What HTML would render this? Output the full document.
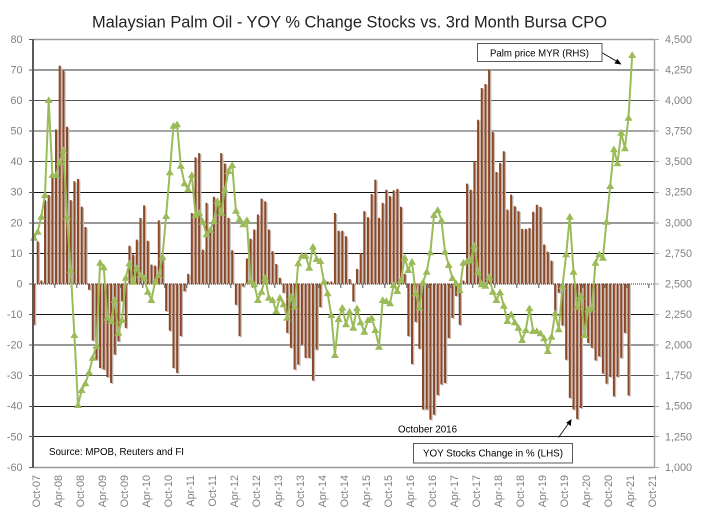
<!DOCTYPE html>
<html>
<head>
<meta charset="utf-8">
<style>
html,body{margin:0;padding:0;background:#fff;}
svg{display:block;}
text{font-family:"Liberation Sans",Arial,sans-serif;}
</style>
</head>
<body>
<svg width="701" height="523" viewBox="0 0 701 523" xmlns="http://www.w3.org/2000/svg">
<defs>
<marker id="tri" markerWidth="10" markerHeight="10" refX="5" refY="5" markerUnits="userSpaceOnUse" viewBox="0 0 10 10">
<path d="M5 1.2 L9 8 L1 8 Z" fill="#9bbb59"/>
</marker>
</defs>
<rect width="701" height="523" fill="#fff"/>

<!-- title -->
<text x="92" y="27.5" font-size="16.5" fill="#222" textLength="515" lengthAdjust="spacingAndGlyphs">Malaysian Palm Oil - YOY % Change Stocks vs. 3rd Month Bursa CPO</text>

<!-- gridlines -->
<g fill="none">
<line x1="33" y1="39.5" x2="654" y2="39.5" stroke="#999" stroke-width="1.5"/>
<line x1="33" y1="70" x2="654" y2="70" stroke="#999" stroke-width="2"/>
<line x1="33" y1="100.5" x2="654" y2="100.5" stroke="#555" stroke-width="1"/>
<line x1="33" y1="131" x2="654" y2="131" stroke="#888" stroke-width="1.6"/>
<line x1="33" y1="161.5" x2="654" y2="161.5" stroke="#444" stroke-width="1"/>
<line x1="33" y1="192.5" x2="654" y2="192.5" stroke="#111" stroke-width="1"/>
<line x1="33" y1="223" x2="654" y2="223" stroke="#999" stroke-width="2"/>
<line x1="33" y1="253.5" x2="654" y2="253.5" stroke="#111" stroke-width="1"/>
<line x1="33" y1="314.5" x2="654" y2="314.5" stroke="#111" stroke-width="1"/>
<line x1="33" y1="345" x2="654" y2="345" stroke="#777" stroke-width="1.6"/>
<line x1="33" y1="375.5" x2="654" y2="375.5" stroke="#555" stroke-width="1"/>
<line x1="33" y1="406.5" x2="654" y2="406.5" stroke="#222" stroke-width="1"/>
<line x1="33" y1="436.5" x2="654" y2="436.5" stroke="#222" stroke-width="1"/>
<line x1="33" y1="467.5" x2="654" y2="467.5" stroke="#999" stroke-width="1.5"/>
</g>

<!-- bar shadows -->
<g transform="translate(35.3,284.6) scale(3.67,-3.057)" fill="#c2bab2">
<path d="M-.27 0v-13.4h.54v13.4zm1 0v13.8h.54v-13.8zm1 0v1h.54v-1zm1 0v27.3h.54v-27.3zm1 0v29h.54v-29zm1 0v35h.54v-35zm1 0v50.4h.54v-50.4zm1 0v71.3h.54v-71.3zm1 0v69.7h.54v-69.7zm1 0v51.3h.54v-51.3zm1 0v27.3h.54v-27.3zm1 0v33.5h.54v-33.5zm1 0v34.2h.54v-34.2zm1 0v25.2h.54v-25.2zm1 0v18.5h.54v-18.5zm1 0v-2h.54v2zm1 0v-18.6h.54v18.6zm1 0v-24.9h.54v24.9zm1 0v-27.6h.54v27.6zm1 0v-28.1h.54v28.1zm1 0v-30.6h.54v30.6zm1 0v-32.5h.54v32.5zm1 0v-23.2h.54v23.2zm1 0v-18.9h.54v18.9zm1 0v-5.8h.54v5.8zm1 0v-14.5h.54v14.5zm1 0v12.4h.54v-12.4zm1 0v9.5h.54v-9.5zm1 0v14.4h.54v-14.4zm1 0v21.5h.54v-21.5zm1 0v25.6h.54v-25.6zm1 0v14h.54v-14zm1 0v6.2h.54v-6.2zm1 0v5.9h.54v-5.9zm1 0v20.7h.54v-20.7zm1 0v9h.54v-9zm1 0v-9h.54v9zm1 0v-15.4h.54v15.4zm1 0v-27.6h.54v27.6zm1 0v-29.2h.54v29.2zm1 0v-17.2h.54v17.2zm1 0v-2.5h.54v2.5zm1 0v3.2h.54v-3.2zm1 0v23.1h.54v-23.1zm1 0v41.3h.54v-41.3zm1 0v42.7h.54v-42.7zm1 0v11.1h.54v-11.1zm1 0v26.4h.54v-26.4zm1 0v18.2h.54v-18.2zm1 0v28.4h.54v-28.4zm1 0v25.8h.54v-25.8zm1 0v42.7h.54v-42.7zm1 0v39.3h.54v-39.3zm1 0v21.5h.54v-21.5zm1 0v10.9h.54v-10.9zm1 0v-6.9h.54v6.9zm1 0v-17.2h.54v17.2zm1 0v-1h.54v1zm1 0v8.2h.54v-8.2zm1 0v14.7h.54v-14.7zm1 0v17.7h.54v-17.7zm1 0v22.6h.54v-22.6zm1 0v27.8h.54v-27.8zm1 0v26.9h.54v-26.9zm1 0v17.7h.54v-17.7zm1 0v10.6h.54v-10.6zm1 0v6.4h.54v-6.4zm1 0v1.9h.54v-1.9zm1 0v-3h.54v3zm1 0v-16.1h.54v16.1zm1 0v-21h.54v21zm1 0v-28.1h.54v28.1zm1 0v-26.5h.54v26.5zm1 0v-20h.54v20zm1 0v-24.3h.54v24.3zm1 0v-24.3h.54v24.3zm1 0v-31.7h.54v31.7zm1 0v-21.6h.54v21.6zm1 0v-7.7h.54v7.7zm1 0v1.5h.54v-1.5zm1 0v.7h.54v-.7zm1 0v.7h.54v-.7zm1 0v23.1h.54v-23.1zm1 0v17.3h.54v-17.3zm1 0v17.3h.54v-17.3zm1 0v15.5h.54v-15.5zm1 0v1.5h.54v-1.5zm1 0v-5.8h.54v5.8zm1 0v4.8h.54v-4.8zm1 0v10h.54v-10zm1 0v23.7h.54v-23.7zm1 0v21.7h.54v-21.7zm1 0v29.3h.54v-29.3zm1 0v34h.54v-34zm1 0v21.5h.54v-21.5zm1 0v26.4h.54v-26.4zm1 0v30.7h.54v-30.7zm1 0v28.6h.54v-28.6zm1 0v30.5h.54v-30.5zm1 0v31h.54v-31zm1 0v25.1h.54v-25.1zm1 0v3.2h.54v-3.2zm1 0v-17.2h.54v17.2zm1 0v-26.3h.54v26.3zm1 0v-12.5h.54v12.5zm1 0v-21.3h.54v21.3zm1 0v-41.2h.54v41.2zm1 0v-41.2h.54v41.2zm1 0v-44.5h.54v44.5zm1 0v-42.9h.54v42.9zm1 0v-36.5h.54v36.5zm1 0v-33h.54v33zm1 0v-32.5h.54v32.5zm1 0v-17.8h.54v17.8zm1 0v-11.2h.54v11.2zm1 0v-4h.54v4zm1 0v-13.5h.54v13.5zm1 0v1h.54v-1zm1 0v32.7h.54v-32.7zm1 0v30.7h.54v-30.7zm1 0v40h.54v-40zm1 0v53.6h.54v-53.6zm1 0v64h.54v-64zm1 0v65.3h.54v-65.3zm1 0v70h.54v-70zm1 0v49.6h.54v-49.6zm1 0v36.5h.54v-36.5zm1 0v39.5h.54v-39.5zm1 0v43.3h.54v-43.3zm1 0v24.2h.54v-24.2zm1 0v29.1h.54v-29.1zm1 0v25.3h.54v-25.3zm1 0v23.7h.54v-23.7zm1 0v17.9h.54v-17.9zm1 0v17.9h.54v-17.9zm1 0v18.2h.54v-18.2zm1 0v23.5h.54v-23.5zm1 0v25.8h.54v-25.8zm1 0v25.1h.54v-25.1zm1 0v12.8h.54v-12.8zm1 0v10.4h.54v-10.4zm1 0v7.5h.54v-7.5zm1 0v-9.6h.54v9.6zm1 0v-3h.54v3zm1 0v-13.7h.54v13.7zm1 0v-24.9h.54v24.9zm1 0v-37.4h.54v37.4zm1 0v-41.2h.54v41.2zm1 0v-44.3h.54v44.3zm1 0v-40.7h.54v40.7zm1 0v-16.1h.54v16.1zm1 0v-19.4h.54v19.4zm1 0v-21h.54v21zm1 0v-25.1h.54v25.1zm1 0v-23.8h.54v23.8zm1 0v-29.4h.54v29.4zm1 0v-32.7h.54v32.7zm1 0v-30.5h.54v30.5zm1 0v-36.9h.54v36.9zm1 0v-30.5h.54v30.5zm1 0v-24.3h.54v24.3zm1 0v-16.1h.54v16.1zm1 0v-36.6h.54v36.6z"/>
</g>

<!-- bars -->
<g transform="translate(34,283.6) scale(3.67,-3.057)" fill="#8d4626">
<path d="M-.27 0v-13.4h.54v13.4zm1 0v13.8h.54v-13.8zm1 0v1h.54v-1zm1 0v27.3h.54v-27.3zm1 0v29h.54v-29zm1 0v35h.54v-35zm1 0v50.4h.54v-50.4zm1 0v71.3h.54v-71.3zm1 0v69.7h.54v-69.7zm1 0v51.3h.54v-51.3zm1 0v27.3h.54v-27.3zm1 0v33.5h.54v-33.5zm1 0v34.2h.54v-34.2zm1 0v25.2h.54v-25.2zm1 0v18.5h.54v-18.5zm1 0v-2h.54v2zm1 0v-18.6h.54v18.6zm1 0v-24.9h.54v24.9zm1 0v-27.6h.54v27.6zm1 0v-28.1h.54v28.1zm1 0v-30.6h.54v30.6zm1 0v-32.5h.54v32.5zm1 0v-23.2h.54v23.2zm1 0v-18.9h.54v18.9zm1 0v-5.8h.54v5.8zm1 0v-14.5h.54v14.5zm1 0v12.4h.54v-12.4zm1 0v9.5h.54v-9.5zm1 0v14.4h.54v-14.4zm1 0v21.5h.54v-21.5zm1 0v25.6h.54v-25.6zm1 0v14h.54v-14zm1 0v6.2h.54v-6.2zm1 0v5.9h.54v-5.9zm1 0v20.7h.54v-20.7zm1 0v9h.54v-9zm1 0v-9h.54v9zm1 0v-15.4h.54v15.4zm1 0v-27.6h.54v27.6zm1 0v-29.2h.54v29.2zm1 0v-17.2h.54v17.2zm1 0v-2.5h.54v2.5zm1 0v3.2h.54v-3.2zm1 0v23.1h.54v-23.1zm1 0v41.3h.54v-41.3zm1 0v42.7h.54v-42.7zm1 0v11.1h.54v-11.1zm1 0v26.4h.54v-26.4zm1 0v18.2h.54v-18.2zm1 0v28.4h.54v-28.4zm1 0v25.8h.54v-25.8zm1 0v42.7h.54v-42.7zm1 0v39.3h.54v-39.3zm1 0v21.5h.54v-21.5zm1 0v10.9h.54v-10.9zm1 0v-6.9h.54v6.9zm1 0v-17.2h.54v17.2zm1 0v-1h.54v1zm1 0v8.2h.54v-8.2zm1 0v14.7h.54v-14.7zm1 0v17.7h.54v-17.7zm1 0v22.6h.54v-22.6zm1 0v27.8h.54v-27.8zm1 0v26.9h.54v-26.9zm1 0v17.7h.54v-17.7zm1 0v10.6h.54v-10.6zm1 0v6.4h.54v-6.4zm1 0v1.9h.54v-1.9zm1 0v-3h.54v3zm1 0v-16.1h.54v16.1zm1 0v-21h.54v21zm1 0v-28.1h.54v28.1zm1 0v-26.5h.54v26.5zm1 0v-20h.54v20zm1 0v-24.3h.54v24.3zm1 0v-24.3h.54v24.3zm1 0v-31.7h.54v31.7zm1 0v-21.6h.54v21.6zm1 0v-7.7h.54v7.7zm1 0v1.5h.54v-1.5zm1 0v.7h.54v-.7zm1 0v.7h.54v-.7zm1 0v23.1h.54v-23.1zm1 0v17.3h.54v-17.3zm1 0v17.3h.54v-17.3zm1 0v15.5h.54v-15.5zm1 0v1.5h.54v-1.5zm1 0v-5.8h.54v5.8zm1 0v4.8h.54v-4.8zm1 0v10h.54v-10zm1 0v23.7h.54v-23.7zm1 0v21.7h.54v-21.7zm1 0v29.3h.54v-29.3zm1 0v34h.54v-34zm1 0v21.5h.54v-21.5zm1 0v26.4h.54v-26.4zm1 0v30.7h.54v-30.7zm1 0v28.6h.54v-28.6zm1 0v30.5h.54v-30.5zm1 0v31h.54v-31zm1 0v25.1h.54v-25.1zm1 0v3.2h.54v-3.2zm1 0v-17.2h.54v17.2zm1 0v-26.3h.54v26.3zm1 0v-12.5h.54v12.5zm1 0v-21.3h.54v21.3zm1 0v-41.2h.54v41.2zm1 0v-41.2h.54v41.2zm1 0v-44.5h.54v44.5zm1 0v-42.9h.54v42.9zm1 0v-36.5h.54v36.5zm1 0v-33h.54v33zm1 0v-32.5h.54v32.5zm1 0v-17.8h.54v17.8zm1 0v-11.2h.54v11.2zm1 0v-4h.54v4zm1 0v-13.5h.54v13.5zm1 0v1h.54v-1zm1 0v32.7h.54v-32.7zm1 0v30.7h.54v-30.7zm1 0v40h.54v-40zm1 0v53.6h.54v-53.6zm1 0v64h.54v-64zm1 0v65.3h.54v-65.3zm1 0v70h.54v-70zm1 0v49.6h.54v-49.6zm1 0v36.5h.54v-36.5zm1 0v39.5h.54v-39.5zm1 0v43.3h.54v-43.3zm1 0v24.2h.54v-24.2zm1 0v29.1h.54v-29.1zm1 0v25.3h.54v-25.3zm1 0v23.7h.54v-23.7zm1 0v17.9h.54v-17.9zm1 0v17.9h.54v-17.9zm1 0v18.2h.54v-18.2zm1 0v23.5h.54v-23.5zm1 0v25.8h.54v-25.8zm1 0v25.1h.54v-25.1zm1 0v12.8h.54v-12.8zm1 0v10.4h.54v-10.4zm1 0v7.5h.54v-7.5zm1 0v-9.6h.54v9.6zm1 0v-3h.54v3zm1 0v-13.7h.54v13.7zm1 0v-24.9h.54v24.9zm1 0v-37.4h.54v37.4zm1 0v-41.2h.54v41.2zm1 0v-44.3h.54v44.3zm1 0v-40.7h.54v40.7zm1 0v-16.1h.54v16.1zm1 0v-19.4h.54v19.4zm1 0v-21h.54v21zm1 0v-25.1h.54v25.1zm1 0v-23.8h.54v23.8zm1 0v-29.4h.54v29.4zm1 0v-32.7h.54v32.7zm1 0v-30.5h.54v30.5zm1 0v-36.9h.54v36.9zm1 0v-30.5h.54v30.5zm1 0v-24.3h.54v24.3zm1 0v-16.1h.54v16.1zm1 0v-36.6h.54v36.6z"/>
</g>

<!-- zero line -->
<line x1="33" y1="284" x2="654" y2="284" stroke="#333" stroke-width="1" stroke-dasharray="1 1"/>
<g stroke="#555" stroke-width="1">
<line x1="54.8" y1="284" x2="54.8" y2="288"/><line x1="76.8" y1="284" x2="76.8" y2="288"/><line x1="98.8" y1="284" x2="98.8" y2="288"/><line x1="120.8" y1="284" x2="120.8" y2="288"/><line x1="142.8" y1="284" x2="142.8" y2="288"/><line x1="164.8" y1="284" x2="164.8" y2="288"/><line x1="186.8" y1="284" x2="186.8" y2="288"/><line x1="208.8" y1="284" x2="208.8" y2="288"/><line x1="230.8" y1="284" x2="230.8" y2="288"/><line x1="252.8" y1="284" x2="252.8" y2="288"/><line x1="274.8" y1="284" x2="274.8" y2="288"/><line x1="296.8" y1="284" x2="296.8" y2="288"/><line x1="318.8" y1="284" x2="318.8" y2="288"/><line x1="340.8" y1="284" x2="340.8" y2="288"/><line x1="362.8" y1="284" x2="362.8" y2="288"/><line x1="384.8" y1="284" x2="384.8" y2="288"/><line x1="406.8" y1="284" x2="406.8" y2="288"/><line x1="428.8" y1="284" x2="428.8" y2="288"/><line x1="450.8" y1="284" x2="450.8" y2="288"/><line x1="472.8" y1="284" x2="472.8" y2="288"/><line x1="494.8" y1="284" x2="494.8" y2="288"/><line x1="516.8" y1="284" x2="516.8" y2="288"/><line x1="538.8" y1="284" x2="538.8" y2="288"/><line x1="560.8" y1="284" x2="560.8" y2="288"/><line x1="582.8" y1="284" x2="582.8" y2="288"/><line x1="604.8" y1="284" x2="604.8" y2="288"/><line x1="626.8" y1="284" x2="626.8" y2="288"/><line x1="648.8" y1="284" x2="648.8" y2="288"/>
</g>

<!-- price line -->
<polyline fill="none" stroke="#9bbb59" stroke-width="2" stroke-linejoin="round" marker-start="url(#tri)" marker-mid="url(#tri)" marker-end="url(#tri)" points="34,237.7 37.7,231.7 41.3,216.7 45,195 48.7,100 52.4,175 56,175 59.7,161.7 63.4,150 67,216.7 70.7,270 74.4,335 78,405 81.7,390 85.4,383.3 89.1,372.3 92.7,357.7 96.4,345.7 100.1,262.7 103.7,267.3 107.4,317.7 111.1,321 114.7,300 118.4,332.7 122.1,320 125.8,277.7 129.4,263.3 133.1,281.7 136.8,268 140.4,275 144.1,277.7 147.8,291.7 151.4,300 155.1,281.7 158.8,275 162.5,256.7 166.1,216 169.8,172.3 173.5,125.7 177.1,124.3 180.8,165.7 184.5,183.3 188.1,189.3 191.8,175 195.5,215 199.2,212.7 202.8,221.7 206.5,234.3 210.2,230 213.8,221 217.5,201 221.2,212.7 224.8,190 228.5,171 232.2,165 235.9,210.7 239.5,219 243.2,224.3 246.9,220 250.5,281 254.2,284.3 257.9,300 261.5,291.7 265.2,277.7 268.9,297.7 272.6,300 276.2,311 279.9,297.7 283.6,304.3 287.2,317.7 290.9,296.7 294.6,306.7 298.2,263.3 301.9,255.7 305.6,255.7 309.3,267.7 312.9,246.7 316.6,259 320.3,261 323.9,281.7 327.6,293.3 331.3,315 334.9,355 338.6,319 342.3,307.7 346,324.3 349.6,311.7 353.3,327.7 357,308.3 360.6,322.3 364.3,331.7 368,320 371.6,317.7 375.3,330 379,346.7 382.7,300 386.3,301 390,303.3 393.7,285 397.3,291 401,280 404.7,257.7 408.3,270 412,261.7 415.7,293.3 419.4,307.7 423,282.3 426.7,271.7 430.4,252.3 434,215 437.7,210 441.4,220 445,251.7 448.7,265 452.4,278 456.1,283.3 459.7,290 463.4,262.7 467.1,261 470.7,260 474.4,245.7 478.1,271.7 481.7,284.3 485.4,285.7 489.1,276.7 492.8,291.7 496.4,300 500.1,292.3 503.8,305.7 507.4,321 511.1,314.3 514.8,322.3 518.4,327.7 522.1,340 525.8,330 529.5,308.3 533.1,331 536.8,331 540.5,333.3 544.1,338.3 547.8,351 551.5,336.7 555.1,313.3 558.8,329.3 562.5,286 566.2,254.3 569.8,216.7 573.5,271.7 577.2,306.7 580.8,296 584.5,335 588.2,309.3 591.8,308.3 595.5,262.7 599.2,254.3 602.9,257.7 606.5,221.7 610.2,186 613.9,149.3 617.5,163.3 621.2,132.7 624.9,148.3 628.5,117.7 632.2,55"/>

<!-- axes -->
<line x1="33" y1="39" x2="33" y2="468" stroke="#595959" stroke-width="2"/>
<line x1="654.5" y1="39" x2="654.5" y2="468" stroke="#a6a6a6" stroke-width="1.5"/>
<g stroke="#595959" stroke-width="1">
<line x1="29" y1="39.5" x2="33" y2="39.5"/><line x1="29" y1="70" x2="33" y2="70"/><line x1="29" y1="100.5" x2="33" y2="100.5"/><line x1="29" y1="131" x2="33" y2="131"/><line x1="29" y1="161.5" x2="33" y2="161.5"/><line x1="29" y1="192.5" x2="33" y2="192.5"/><line x1="29" y1="223" x2="33" y2="223"/><line x1="29" y1="253.5" x2="33" y2="253.5"/><line x1="29" y1="284" x2="33" y2="284"/><line x1="29" y1="314.5" x2="33" y2="314.5"/><line x1="29" y1="345" x2="33" y2="345"/><line x1="29" y1="375.5" x2="33" y2="375.5"/><line x1="29" y1="406.5" x2="33" y2="406.5"/><line x1="29" y1="436.5" x2="33" y2="436.5"/><line x1="29" y1="467.5" x2="33" y2="467.5"/>
</g>
<g stroke="#a6a6a6" stroke-width="1">
<line x1="654" y1="39.5" x2="659" y2="39.5"/><line x1="654" y1="70" x2="659" y2="70"/><line x1="654" y1="100.5" x2="659" y2="100.5"/><line x1="654" y1="131" x2="659" y2="131"/><line x1="654" y1="161.5" x2="659" y2="161.5"/><line x1="654" y1="192.5" x2="659" y2="192.5"/><line x1="654" y1="223" x2="659" y2="223"/><line x1="654" y1="253.5" x2="659" y2="253.5"/><line x1="654" y1="284" x2="659" y2="284"/><line x1="654" y1="314.5" x2="659" y2="314.5"/><line x1="654" y1="345" x2="659" y2="345"/><line x1="654" y1="375.5" x2="659" y2="375.5"/><line x1="654" y1="406.5" x2="659" y2="406.5"/><line x1="654" y1="436.5" x2="659" y2="436.5"/><line x1="654" y1="467.5" x2="659" y2="467.5"/>
</g>

<!-- left labels -->
<g font-size="10.8" fill="#808080" text-anchor="end">
<text x="22.5" y="42.8">80</text>
<text x="22.5" y="73.4">70</text>
<text x="22.5" y="104">60</text>
<text x="22.5" y="134.5">50</text>
<text x="22.5" y="165.1">40</text>
<text x="22.5" y="195.7">30</text>
<text x="22.5" y="226.3">20</text>
<text x="22.5" y="256.8">10</text>
<text x="22.5" y="287.4">0</text>
<text x="22.5" y="318">-10</text>
<text x="22.5" y="348.5">-20</text>
<text x="22.5" y="379.1">-30</text>
<text x="22.5" y="409.7">-40</text>
<text x="22.5" y="440.3">-50</text>
<text x="22.5" y="470.8">-60</text>
</g>

<!-- right labels -->
<g font-size="10.8" fill="#808080">
<text x="665" y="42.8">4,500</text>
<text x="665" y="73.4">4,250</text>
<text x="665" y="104">4,000</text>
<text x="665" y="134.5">3,750</text>
<text x="665" y="165.1">3,500</text>
<text x="665" y="195.7">3,250</text>
<text x="665" y="226.3">3,000</text>
<text x="665" y="256.8">2,750</text>
<text x="665" y="287.4">2,500</text>
<text x="665" y="318">2,250</text>
<text x="665" y="348.5">2,000</text>
<text x="665" y="379.1">1,750</text>
<text x="665" y="409.7">1,500</text>
<text x="665" y="440.3">1,250</text>
<text x="665" y="470.8">1,000</text>
</g>

<!-- x labels -->
<g font-size="10.8" fill="#808080" text-anchor="end">
<text transform="translate(40,475) rotate(-90)">Oct-07</text>
<text transform="translate(62,475) rotate(-90)">Apr-08</text>
<text transform="translate(84,475) rotate(-90)">Oct-08</text>
<text transform="translate(106,475) rotate(-90)">Apr-09</text>
<text transform="translate(128,475) rotate(-90)">Oct-09</text>
<text transform="translate(150,475) rotate(-90)">Apr-10</text>
<text transform="translate(172,475) rotate(-90)">Oct-10</text>
<text transform="translate(194,475) rotate(-90)">Apr-11</text>
<text transform="translate(216,475) rotate(-90)">Oct-11</text>
<text transform="translate(238,475) rotate(-90)">Apr-12</text>
<text transform="translate(260,475) rotate(-90)">Oct-12</text>
<text transform="translate(282,475) rotate(-90)">Apr-13</text>
<text transform="translate(304,475) rotate(-90)">Oct-13</text>
<text transform="translate(326,475) rotate(-90)">Apr-14</text>
<text transform="translate(348,475) rotate(-90)">Oct-14</text>
<text transform="translate(370,475) rotate(-90)">Apr-15</text>
<text transform="translate(392,475) rotate(-90)">Oct-15</text>
<text transform="translate(414,475) rotate(-90)">Apr-16</text>
<text transform="translate(436,475) rotate(-90)">Oct-16</text>
<text transform="translate(458,475) rotate(-90)">Apr-17</text>
<text transform="translate(480,475) rotate(-90)">Oct-17</text>
<text transform="translate(502,475) rotate(-90)">Apr-18</text>
<text transform="translate(524,475) rotate(-90)">Oct-18</text>
<text transform="translate(546,475) rotate(-90)">Apr-19</text>
<text transform="translate(568,475) rotate(-90)">Oct-19</text>
<text transform="translate(590,475) rotate(-90)">Apr-20</text>
<text transform="translate(612,475) rotate(-90)">Oct-20</text>
<text transform="translate(634,475) rotate(-90)">Apr-21</text>
<text transform="translate(656,475) rotate(-90)">Oct-21</text>
</g>

<!-- annotations -->
<text x="49" y="455" font-size="10" fill="#000" textLength="135" lengthAdjust="spacingAndGlyphs">Source: MPOB, Reuters and FI</text>
<text x="398" y="432.7" font-size="10" fill="#000" textLength="59" lengthAdjust="spacingAndGlyphs">October 2016</text>

<rect x="413.5" y="443.5" width="159" height="19.5" fill="#fff" stroke="#595959" stroke-width="1"/>
<text x="423" y="456.5" font-size="10.5" fill="#000" textLength="140" lengthAdjust="spacingAndGlyphs">YOY Stocks Change in % (LHS)</text>
<line x1="558.5" y1="437.5" x2="568.5" y2="423.5" stroke="#000" stroke-width="0.8"/>
<path d="M571.5 419 L570.8 426 L566.2 422.8 Z" fill="#000"/>

<rect x="477.5" y="43.5" width="124.5" height="18" fill="#fff" stroke="#595959" stroke-width="1"/>
<text x="490" y="56.7" font-size="10.5" fill="#000" textLength="99" lengthAdjust="spacingAndGlyphs">Palm price MYR (RHS)</text>
<line x1="602.5" y1="53" x2="617" y2="61.5" stroke="#000" stroke-width="0.8"/>
<path d="M621.5 64.5 L614.5 63.5 L617.3 58.8 Z" fill="#000"/>
</svg>
</body>
</html>
